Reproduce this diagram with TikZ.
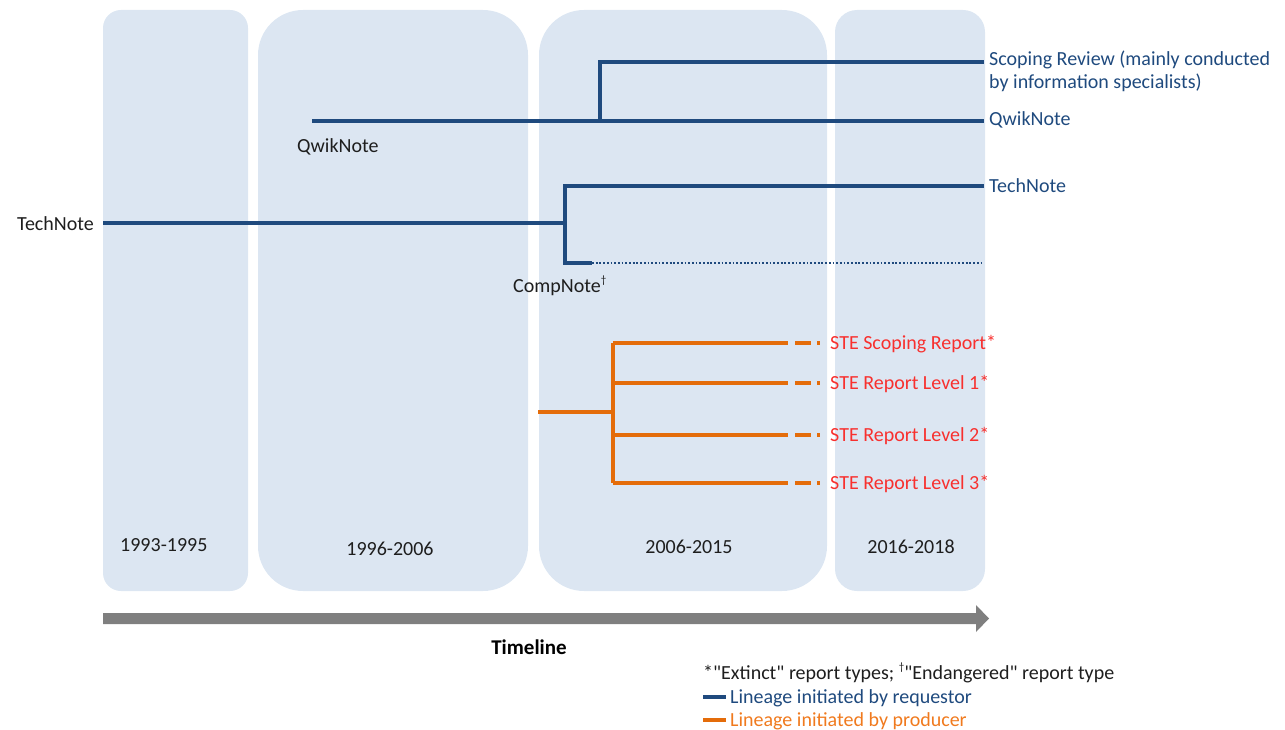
\documentclass[tikz,border=0pt]{standalone}
\usepackage{fontspec}
\setmainfont{Carlito}
\definecolor{panelblue}{HTML}{DCE6F2}
\definecolor{lineblue}{HTML}{1F4A7E}
\definecolor{lineorange}{HTML}{E46C0A}
\definecolor{txtred}{HTML}{F8302E}
\definecolor{txtorange}{HTML}{F07A1E}
\definecolor{txtdark}{HTML}{1E1E1E}
\definecolor{arrowgray}{HTML}{7F7F7F}
\newcommand{\dagsup}{\raisebox{0.45em}{\fontsize{11}{11}\selectfont †}}
\begin{document}
\begin{tikzpicture}[x=1pt,y=-1pt,
  panel/.style={fill=panelblue},
  bl/.style={draw=lineblue,line width=4pt},
  ol/.style={draw=lineorange,line width=4.5pt},
  dotl/.style={draw=lineblue,line width=2.3pt,dash pattern=on 1.8pt off 1.9pt},
  lbl/.style={inner sep=0pt,font=\fontsize{20}{23}\selectfont},
  bluelbl/.style={lbl,text=lineblue},
  darklbl/.style={lbl,text=txtdark},
  redlbl/.style={lbl,text=txtred}]
\useasboundingbox (0,0) rectangle (1285,730);
% panels
\path[panel,rounded corners=18pt] (103,10) rectangle (248,591);
\path[panel,rounded corners=45pt] (258,10) rectangle (528,591);
\path[panel,rounded corners=45pt] (539,10) rectangle (827,591);
\path[panel,rounded corners=22pt] (835,10) rectangle (985,591);
% year labels
\node[darklbl,anchor=base west] (y1) at (120,551) {1993-1995};
\node[darklbl,anchor=base] (y2) at (390,555) {1996-2006};
\node[darklbl,anchor=base] (y3) at (689,553) {2006-2015};
\node[darklbl,anchor=base] (y4) at (911,553) {2016-2018};
% labels
\node[bluelbl,anchor=north west,align=left] (scop) at (989,51) {Scoping Review (mainly conducted\\by information specialists)};
\node[bluelbl,anchor=base west] (qlab) at (989,126) {QwikNote};
\node[bluelbl,anchor=base west] (tlab) at (989,193) {TechNote};
\node[darklbl,anchor=base east] (tleft) at (94,230) {TechNote};
\node[darklbl,anchor=base west] (qleft) at (297,153) {QwikNote};
\node[darklbl,anchor=base west] (comp) at (513,292) {CompNote\dagsup};
% blue lineages
\coordinate (qStart) at (312,121);
\coordinate (qSplit) at (600,121);
\coordinate (qEnd) at (984,121);
\coordinate (sEnd) at (984,62);
\draw[bl] (qStart) -- (qEnd);
\draw[bl] (qSplit) |- (sEnd);
\coordinate (tStart) at (103,223);
\coordinate (tSplit) at (565,223);
\coordinate (tEnd) at (984,186);
\coordinate (cEnd) at (592,263);
\coordinate (dEnd) at (984,263);
\draw[bl] (tStart) -- (tSplit);
\draw[bl] (tEnd) -| (tSplit) |- (cEnd);
\draw[dotl] (cEnd) -- (dEnd);
% orange lineage
\coordinate (oStart) at (538,412);
\coordinate (oSplit) at (613,412);
\coordinate (oTop) at (613,343);
\coordinate (oBot) at (613,483);
\draw[ol] (oStart) -- (oSplit);
\draw[ol] (oTop) -- (oBot);
\foreach \yy/\nm/\txt in {343/a/STE Scoping Report*,383/b/STE Report Level 1*,435/c/STE Report Level 2*,483/d/STE Report Level 3*}{
  \coordinate (s\nm) at (613,\yy);
  \coordinate (e\nm) at (788,\yy);
  \coordinate (f\nm) at (795,\yy);
  \coordinate (g\nm) at (820,\yy);
  \node[redlbl,anchor=base west] (l\nm) at (830,\yy+6.5) {\txt};
  \draw[ol] (s\nm) -- (e\nm);
  \draw[ol,dash pattern=on 16pt off 6pt on 3pt off 20pt] (f\nm) -- (g\nm);
}
% timeline arrow
\fill[arrowgray] (103,613) -- (976,613) -- (976,605) -- (989,618.5) -- (976,632) -- (976,624) -- (103,624) -- cycle;
\node[lbl,anchor=base,font=\fontsize{21}{24}\selectfont\bfseries] (tl) at (529,654) {Timeline};
% legend
\node[darklbl,anchor=base west] (leg1) at (703,679) {*\textquotedbl Extinct\textquotedbl{} report types; \dagsup\textquotedbl Endangered\textquotedbl{} report type};
\coordinate (b1) at (703,697);
\coordinate (b2) at (726,697);
\draw[bl,line width=4.5pt] (b1) -- (b2);
\node[bluelbl,anchor=base west] (leg2) at (730,703) {Lineage initiated by requestor};
\coordinate (o1) at (703,720);
\coordinate (o2) at (726,720);
\draw[ol] (o1) -- (o2);
\node[lbl,text=txtorange,anchor=base west] (leg3) at (730,726) {Lineage initiated by producer};
\end{tikzpicture}
\end{document}
